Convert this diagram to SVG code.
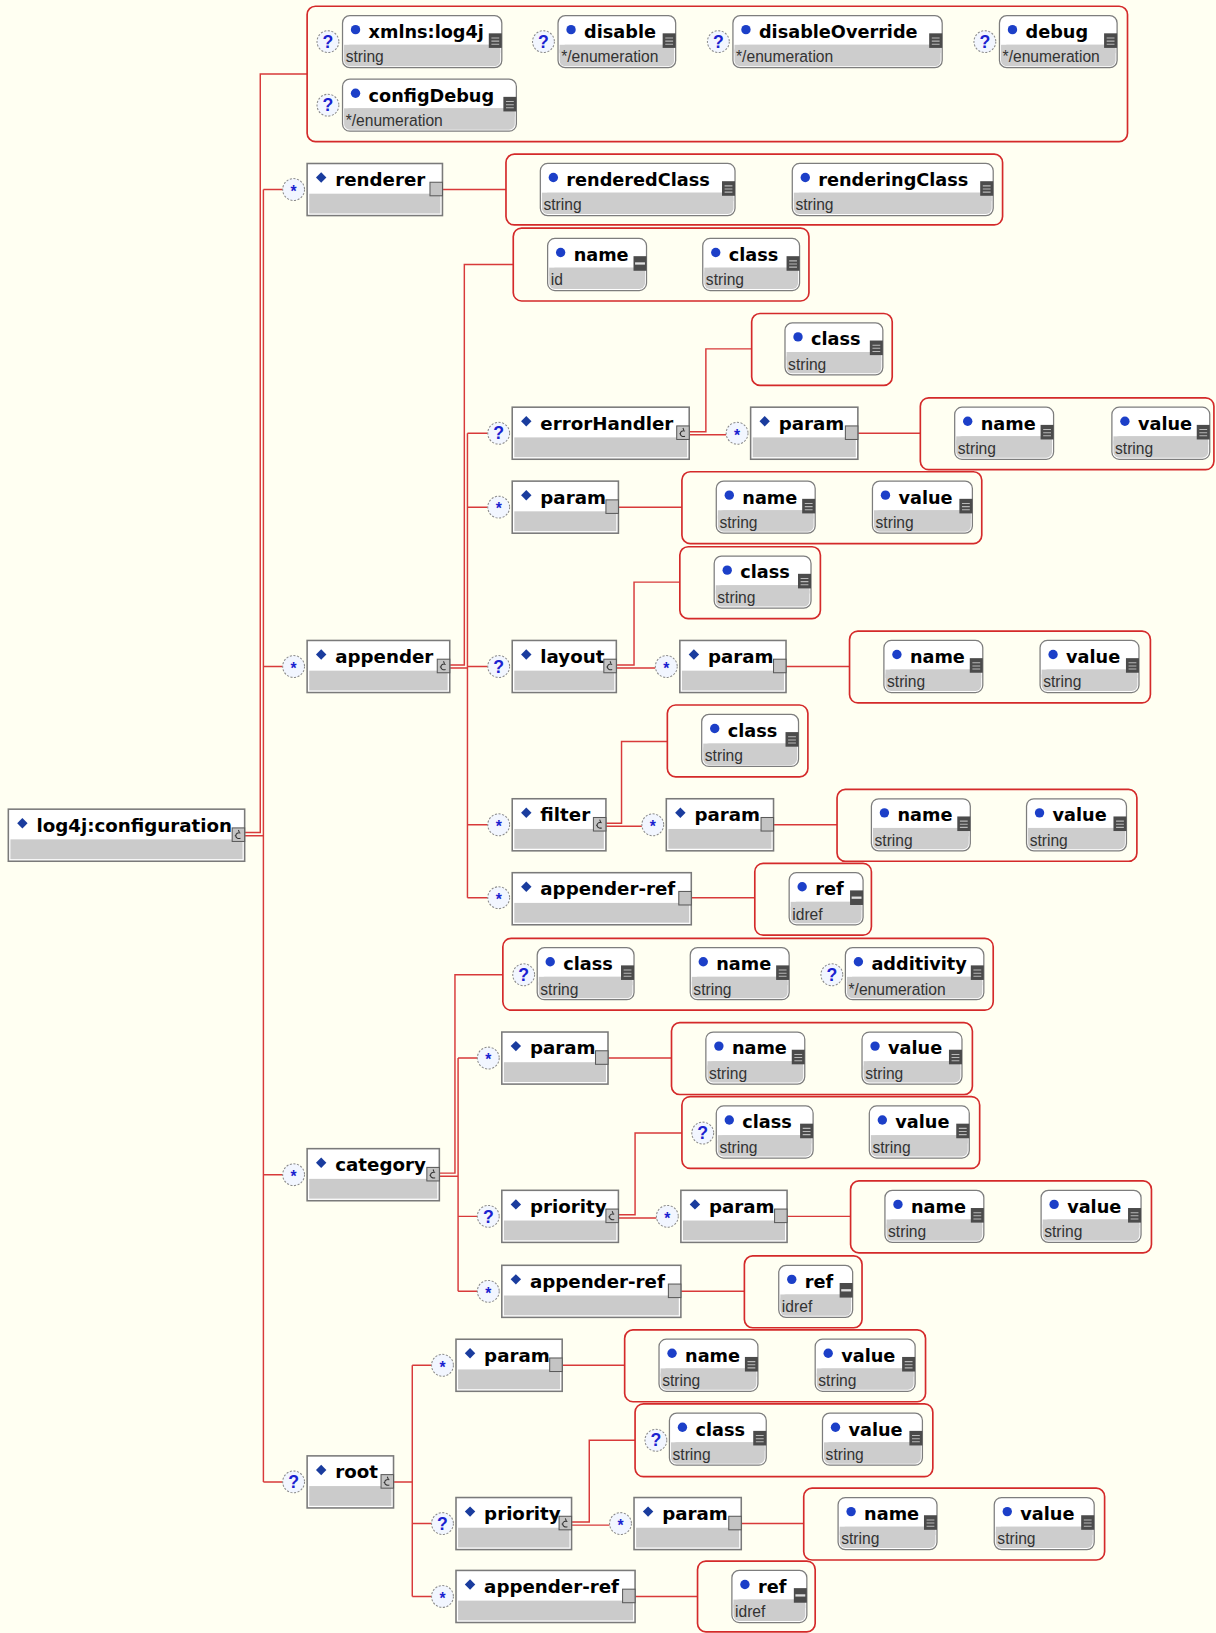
<svg xmlns="http://www.w3.org/2000/svg" xmlns:xlink="http://www.w3.org/1999/xlink" width="1216" height="1633" viewBox="0 0 1216 1633">
<style>
.ln{fill:none;stroke:#d83a3a;stroke-width:1.4}
.grp{fill:none;stroke:#d42a2a;stroke-width:1.6}
.eb{fill:#fff;stroke:#7a7a7a;stroke-width:1.5}
.eg{fill:#cbcbcb}
.ab{fill:#fff;stroke:#7d7d7d;stroke-width:1.2}
.ag{fill:#cdcdcd}
.dm{fill:#1a3c9e}
.dot{fill:#1c3fc8}
.en{font-family:"DejaVu Sans",Verdana,sans-serif;font-weight:bold;font-size:17.5px;fill:#000}
.an{font-family:"DejaVu Sans",Verdana,sans-serif;font-weight:bold;font-size:17px;fill:#000}
.ty{font-family:"Liberation Sans",Arial,sans-serif;font-size:15px;fill:#333}
.oc{fill:#f2f6ff;stroke:#8a8a8a;stroke-width:1;stroke-dasharray:2 1.5}
.q{font-family:"Liberation Sans",Arial,sans-serif;font-weight:bold;font-size:17px;fill:#1a22d0;text-anchor:middle}
.s{font-family:"Liberation Sans",Arial,sans-serif;font-weight:bold;font-size:15px;fill:#1a22d0;text-anchor:middle}
</style>
<defs>
<g id="str"><rect width="12.5" height="14" fill="#4b4b4b"/><path d="M2.5 4.5H10M2.5 7.5H10M2.5 10.5H10" stroke="#b8b8b8" stroke-width="1"/></g>
<g id="idi"><rect width="12.5" height="14" fill="#4b4b4b"/><path d="M1.5 7H11" stroke="#e0e0e0" stroke-width="2.2"/></g>
<g id="pln"><rect x="0.5" y="0.5" width="12" height="13" fill="#c4c4c4" stroke="#5a5a5a"/></g>
<g id="seq"><rect x="0.5" y="0.5" width="12" height="13" fill="#c4c4c4" stroke="#5a5a5a"/><path d="M8.5 5.5C6 4.5 4 6 4 8S6 11.2 8.5 10.5M6.5 2.5L7.5 5M3 8H4.5" fill="none" stroke="#333" stroke-width="1"/></g>
</defs>
<rect width="1216" height="1633" fill="#fffff2"/>
<g transform="scale(1.0411 1.0414)">
<g id="connectors">
<path class="ln" d="M235 799.5H250V71H295M235 802.5H253M253 182V1423M253 182H271.5M253 640H271.5M253 1128H271.5M253 1423H271.5"/>
<path class="ln" d="M425 182H486"/>
<path class="ln" d="M432 638.5H446V254H493M432 641.5H449M449 416V862M449 416H468.5M449 487H468.5M449 640H468.5M449 792H468.5M449 862H468.5"/>
<path class="ln" d="M662 414.5H678V335H722M662 417.5H697.5M824 416H884"/>
<path class="ln" d="M594 487H655"/>
<path class="ln" d="M592 638.5H609V559H653M592 641.5H629.5M755 640H816"/>
<path class="ln" d="M582 790.5H597V712H641M582 793.5H616.5M743 792H804"/>
<path class="ln" d="M664 862H725"/>
<path class="ln" d="M422 1126.5H437V936H483M422 1129.5H440M440 1016V1240M440 1016H458.5M440 1168H458.5M440 1240H458.5"/>
<path class="ln" d="M584 1016H645M594 1166.5H610V1088H655M594 1169.5H630.5M756 1168H817M654 1240H715"/>
<path class="ln" d="M378 1423H396M396 1311V1533M396 1311H414.5M396 1463H414.5M396 1533H414.5"/>
<path class="ln" d="M540 1311H600M549 1461.5H566V1383H610M549 1464.5H585.5M712 1463H772M610 1533H670"/>
</g>
<g id="attribute-groups">
<rect class="grp" x="295" y="6" width="788" height="130" rx="8"/>
<rect class="grp" x="486" y="148" width="477" height="68" rx="8"/>
<rect class="grp" x="493" y="219" width="284" height="70" rx="8"/>
<rect class="grp" x="722" y="301" width="135" height="69" rx="8"/>
<rect class="grp" x="884" y="382" width="282" height="69" rx="8"/>
<rect class="grp" x="655" y="453" width="288" height="69" rx="8"/>
<rect class="grp" x="653" y="525" width="135" height="69" rx="8"/>
<rect class="grp" x="816" y="606" width="289" height="69" rx="8"/>
<rect class="grp" x="641" y="677" width="135" height="69" rx="8"/>
<rect class="grp" x="804" y="758" width="288" height="69" rx="8"/>
<rect class="grp" x="725" y="829" width="112" height="69" rx="8"/>
<rect class="grp" x="483" y="901" width="471" height="69" rx="8"/>
<rect class="grp" x="645" y="982" width="289" height="69" rx="8"/>
<rect class="grp" x="655" y="1053" width="286" height="69" rx="8"/>
<rect class="grp" x="817" y="1134" width="289" height="69" rx="8"/>
<rect class="grp" x="715" y="1206" width="113" height="69" rx="8"/>
<rect class="grp" x="600" y="1277" width="289" height="69" rx="8"/>
<rect class="grp" x="610" y="1348" width="286" height="70" rx="8"/>
<rect class="grp" x="772" y="1429" width="289" height="69" rx="8"/>
<rect class="grp" x="670" y="1499" width="113" height="68" rx="8"/>
</g>

<!-- root element -->
<g id="n-configuration" transform="translate(8 777)">
<rect class="eb" width="227" height="50"/><rect class="eg" x="2" y="29" width="223" height="19"/>
<path class="dm" d="M13.5 8.5l5 5-5 5-5-5z"/><text class="en" x="27" y="21.5">log4j:configuration</text>
<use href="#seq" x="214.5" y="17.5"/>
</g>

<!-- top attributes -->
<g id="a-xmlns" transform="translate(329 15)">
<circle class="oc" cx="-14" cy="25" r="10.5"/><text class="q" x="-14" y="31">?</text>
<rect class="ab" width="153" height="50" rx="7"/><rect class="ag" x="1.5" y="28" width="150" height="20.5" rx="5.5"/><rect class="ag" x="1.5" y="28" width="150" height="8"/>
<circle class="dot" cx="12.5" cy="13.5" r="4.5"/><text class="an" x="25" y="21.5">xmlns:log4j</text><text class="ty" x="3" y="45">string</text>
<use href="#str" x="140.5" y="17"/>
</g>
<g id="a-disable" transform="translate(536 15)">
<circle class="oc" cx="-14" cy="25" r="10.5"/><text class="q" x="-14" y="31">?</text>
<rect class="ab" width="113" height="50" rx="7"/><rect class="ag" x="1.5" y="28" width="110" height="20.5" rx="5.5"/><rect class="ag" x="1.5" y="28" width="110" height="8"/>
<circle class="dot" cx="12.5" cy="13.5" r="4.5"/><text class="an" x="25" y="21.5">disable</text><text class="ty" x="3" y="45">*/enumeration</text>
<use href="#str" x="100.5" y="17"/>
</g>
<g id="a-disableOverride" transform="translate(704 15)">
<circle class="oc" cx="-14" cy="25" r="10.5"/><text class="q" x="-14" y="31">?</text>
<rect class="ab" width="201" height="50" rx="7"/><rect class="ag" x="1.5" y="28" width="198" height="20.5" rx="5.5"/><rect class="ag" x="1.5" y="28" width="198" height="8"/>
<circle class="dot" cx="12.5" cy="13.5" r="4.5"/><text class="an" x="25" y="21.5">disableOverride</text><text class="ty" x="3" y="45">*/enumeration</text>
<use href="#str" x="188.5" y="17"/>
</g>
<g id="a-debug" transform="translate(960 15)">
<circle class="oc" cx="-14" cy="25" r="10.5"/><text class="q" x="-14" y="31">?</text>
<rect class="ab" width="113" height="50" rx="7"/><rect class="ag" x="1.5" y="28" width="110" height="20.5" rx="5.5"/><rect class="ag" x="1.5" y="28" width="110" height="8"/>
<circle class="dot" cx="12.5" cy="13.5" r="4.5"/><text class="an" x="25" y="21.5">debug</text><text class="ty" x="3" y="45">*/enumeration</text>
<use href="#str" x="100.5" y="17"/>
</g>
<g id="a-configDebug" transform="translate(329 76)">
<circle class="oc" cx="-14" cy="25" r="10.5"/><text class="q" x="-14" y="31">?</text>
<rect class="ab" width="167" height="50" rx="7"/><rect class="ag" x="1.5" y="28" width="164" height="20.5" rx="5.5"/><rect class="ag" x="1.5" y="28" width="164" height="8"/>
<circle class="dot" cx="12.5" cy="13.5" r="4.5"/><text class="an" x="25" y="21.5">configDebug</text><text class="ty" x="3" y="45">*/enumeration</text>
<use href="#str" x="154.5" y="17"/>
</g>

<!-- renderer -->
<g id="n-renderer" transform="translate(295 157)">
<circle class="oc" cx="-13" cy="25" r="10.5"/><text class="s" x="-13" y="32">*</text>
<rect class="eb" width="130" height="50"/><rect class="eg" x="2" y="29" width="126" height="19"/>
<path class="dm" d="M13.5 8.5l5 5-5 5-5-5z"/><text class="en" x="27" y="21.5">renderer</text>
<use href="#pln" x="117.5" y="17.5"/>
</g>
<g id="a-renderedClass" transform="translate(519 157)">
<rect class="ab" width="187" height="50" rx="7"/><rect class="ag" x="1.5" y="28" width="184" height="20.5" rx="5.5"/><rect class="ag" x="1.5" y="28" width="184" height="8"/>
<circle class="dot" cx="12.5" cy="13.5" r="4.5"/><text class="an" x="25" y="21.5">renderedClass</text><text class="ty" x="3" y="45">string</text>
<use href="#str" x="174.5" y="17"/>
</g>
<g id="a-renderingClass" transform="translate(761 157)">
<rect class="ab" width="193" height="50" rx="7"/><rect class="ag" x="1.5" y="28" width="190" height="20.5" rx="5.5"/><rect class="ag" x="1.5" y="28" width="190" height="8"/>
<circle class="dot" cx="12.5" cy="13.5" r="4.5"/><text class="an" x="25" y="21.5">renderingClass</text><text class="ty" x="3" y="45">string</text>
<use href="#str" x="180.5" y="17"/>
</g>

<!-- appender -->
<g id="n-appender" transform="translate(295 615)">
<circle class="oc" cx="-13" cy="25" r="10.5"/><text class="s" x="-13" y="32">*</text>
<rect class="eb" width="137" height="50"/><rect class="eg" x="2" y="29" width="133" height="19"/>
<path class="dm" d="M13.5 8.5l5 5-5 5-5-5z"/><text class="en" x="27" y="21.5">appender</text>
<use href="#seq" x="124.5" y="17.5"/>
</g>
<g id="a-appender-name" transform="translate(526 229)">
<rect class="ab" width="95" height="50" rx="7"/><rect class="ag" x="1.5" y="28" width="92" height="20.5" rx="5.5"/><rect class="ag" x="1.5" y="28" width="92" height="8"/>
<circle class="dot" cx="12.5" cy="13.5" r="4.5"/><text class="an" x="25" y="21.5">name</text><text class="ty" x="3" y="45">id</text>
<use href="#idi" x="82.5" y="17"/>
</g>
<g id="a-appender-class" transform="translate(675 229)">
<rect class="ab" width="93" height="50" rx="7"/><rect class="ag" x="1.5" y="28" width="90" height="20.5" rx="5.5"/><rect class="ag" x="1.5" y="28" width="90" height="8"/>
<circle class="dot" cx="12.5" cy="13.5" r="4.5"/><text class="an" x="25" y="21.5">class</text><text class="ty" x="3" y="45">string</text>
<use href="#str" x="80.5" y="17"/>
</g>

<!-- errorHandler -->
<g id="n-errorHandler" transform="translate(492 391)">
<circle class="oc" cx="-13" cy="25" r="10.5"/><text class="q" x="-13" y="31">?</text>
<rect class="eb" width="170" height="50"/><rect class="eg" x="2" y="29" width="166" height="19"/>
<path class="dm" d="M13.5 8.5l5 5-5 5-5-5z"/><text class="en" x="27" y="21.5">errorHandler</text>
<use href="#seq" x="157.5" y="17.5"/>
</g>
<g id="a-errorHandler-class" transform="translate(754 310)">
<rect class="ab" width="94" height="50" rx="7"/><rect class="ag" x="1.5" y="28" width="91" height="20.5" rx="5.5"/><rect class="ag" x="1.5" y="28" width="91" height="8"/>
<circle class="dot" cx="12.5" cy="13.5" r="4.5"/><text class="an" x="25" y="21.5">class</text><text class="ty" x="3" y="45">string</text>
<use href="#str" x="81.5" y="17"/>
</g>
<g id="n-errorHandler-param" transform="translate(721 391)">
<circle class="oc" cx="-13" cy="25" r="10.5"/><text class="s" x="-13" y="32">*</text>
<rect class="eb" width="103" height="50"/><rect class="eg" x="2" y="29" width="99" height="19"/>
<path class="dm" d="M13.5 8.5l5 5-5 5-5-5z"/><text class="en" x="27" y="21.5">param</text>
<use href="#pln" x="90.5" y="17.5"/>
</g>
<g id="a-eh-param-name" transform="translate(917 391)">
<rect class="ab" width="95" height="50" rx="7"/><rect class="ag" x="1.5" y="28" width="92" height="20.5" rx="5.5"/><rect class="ag" x="1.5" y="28" width="92" height="8"/>
<circle class="dot" cx="12.5" cy="13.5" r="4.5"/><text class="an" x="25" y="21.5">name</text><text class="ty" x="3" y="45">string</text>
<use href="#str" x="82.5" y="17"/>
</g>
<g id="a-eh-param-value" transform="translate(1068 391)">
<rect class="ab" width="94" height="50" rx="7"/><rect class="ag" x="1.5" y="28" width="91" height="20.5" rx="5.5"/><rect class="ag" x="1.5" y="28" width="91" height="8"/>
<circle class="dot" cx="12.5" cy="13.5" r="4.5"/><text class="an" x="25" y="21.5">value</text><text class="ty" x="3" y="45">string</text>
<use href="#str" x="81.5" y="17"/>
</g>

<!-- appender param -->
<g id="n-appender-param" transform="translate(492 462)">
<circle class="oc" cx="-13" cy="25" r="10.5"/><text class="s" x="-13" y="32">*</text>
<rect class="eb" width="102" height="50"/><rect class="eg" x="2" y="29" width="98" height="19"/>
<path class="dm" d="M13.5 8.5l5 5-5 5-5-5z"/><text class="en" x="27" y="21.5">param</text>
<use href="#pln" x="89.5" y="17.5"/>
</g>
<g id="a-ap-param-name" transform="translate(688 462)">
<rect class="ab" width="95" height="50" rx="7"/><rect class="ag" x="1.5" y="28" width="92" height="20.5" rx="5.5"/><rect class="ag" x="1.5" y="28" width="92" height="8"/>
<circle class="dot" cx="12.5" cy="13.5" r="4.5"/><text class="an" x="25" y="21.5">name</text><text class="ty" x="3" y="45">string</text>
<use href="#str" x="82.5" y="17"/>
</g>
<g id="a-ap-param-value" transform="translate(838 462)">
<rect class="ab" width="96" height="50" rx="7"/><rect class="ag" x="1.5" y="28" width="93" height="20.5" rx="5.5"/><rect class="ag" x="1.5" y="28" width="93" height="8"/>
<circle class="dot" cx="12.5" cy="13.5" r="4.5"/><text class="an" x="25" y="21.5">value</text><text class="ty" x="3" y="45">string</text>
<use href="#str" x="83.5" y="17"/>
</g>

<!-- layout -->
<g id="n-layout" transform="translate(492 615)">
<circle class="oc" cx="-13" cy="25" r="10.5"/><text class="q" x="-13" y="31">?</text>
<rect class="eb" width="100" height="50"/><rect class="eg" x="2" y="29" width="96" height="19"/>
<path class="dm" d="M13.5 8.5l5 5-5 5-5-5z"/><text class="en" x="27" y="21.5">layout</text>
<use href="#seq" x="87.5" y="17.5"/>
</g>
<g id="a-layout-class" transform="translate(686 534)">
<rect class="ab" width="93" height="50" rx="7"/><rect class="ag" x="1.5" y="28" width="90" height="20.5" rx="5.5"/><rect class="ag" x="1.5" y="28" width="90" height="8"/>
<circle class="dot" cx="12.5" cy="13.5" r="4.5"/><text class="an" x="25" y="21.5">class</text><text class="ty" x="3" y="45">string</text>
<use href="#str" x="80.5" y="17"/>
</g>
<g id="n-layout-param" transform="translate(653 615)">
<circle class="oc" cx="-13" cy="25" r="10.5"/><text class="s" x="-13" y="32">*</text>
<rect class="eb" width="102" height="50"/><rect class="eg" x="2" y="29" width="98" height="19"/>
<path class="dm" d="M13.5 8.5l5 5-5 5-5-5z"/><text class="en" x="27" y="21.5">param</text>
<use href="#pln" x="89.5" y="17.5"/>
</g>
<g id="a-ly-param-name" transform="translate(849 615)">
<rect class="ab" width="95" height="50" rx="7"/><rect class="ag" x="1.5" y="28" width="92" height="20.5" rx="5.5"/><rect class="ag" x="1.5" y="28" width="92" height="8"/>
<circle class="dot" cx="12.5" cy="13.5" r="4.5"/><text class="an" x="25" y="21.5">name</text><text class="ty" x="3" y="45">string</text>
<use href="#str" x="82.5" y="17"/>
</g>
<g id="a-ly-param-value" transform="translate(999 615)">
<rect class="ab" width="95" height="50" rx="7"/><rect class="ag" x="1.5" y="28" width="92" height="20.5" rx="5.5"/><rect class="ag" x="1.5" y="28" width="92" height="8"/>
<circle class="dot" cx="12.5" cy="13.5" r="4.5"/><text class="an" x="25" y="21.5">value</text><text class="ty" x="3" y="45">string</text>
<use href="#str" x="82.5" y="17"/>
</g>

<!-- filter -->
<g id="n-filter" transform="translate(492 767)">
<circle class="oc" cx="-13" cy="25" r="10.5"/><text class="s" x="-13" y="32">*</text>
<rect class="eb" width="90" height="50"/><rect class="eg" x="2" y="29" width="86" height="19"/>
<path class="dm" d="M13.5 8.5l5 5-5 5-5-5z"/><text class="en" x="27" y="21.5">filter</text>
<use href="#seq" x="77.5" y="17.5"/>
</g>
<g id="a-filter-class" transform="translate(674 686)">
<rect class="ab" width="93" height="50" rx="7"/><rect class="ag" x="1.5" y="28" width="90" height="20.5" rx="5.5"/><rect class="ag" x="1.5" y="28" width="90" height="8"/>
<circle class="dot" cx="12.5" cy="13.5" r="4.5"/><text class="an" x="25" y="21.5">class</text><text class="ty" x="3" y="45">string</text>
<use href="#str" x="80.5" y="17"/>
</g>
<g id="n-filter-param" transform="translate(640 767)">
<circle class="oc" cx="-13" cy="25" r="10.5"/><text class="s" x="-13" y="32">*</text>
<rect class="eb" width="103" height="50"/><rect class="eg" x="2" y="29" width="99" height="19"/>
<path class="dm" d="M13.5 8.5l5 5-5 5-5-5z"/><text class="en" x="27" y="21.5">param</text>
<use href="#pln" x="90.5" y="17.5"/>
</g>
<g id="a-fl-param-name" transform="translate(837 767)">
<rect class="ab" width="95" height="50" rx="7"/><rect class="ag" x="1.5" y="28" width="92" height="20.5" rx="5.5"/><rect class="ag" x="1.5" y="28" width="92" height="8"/>
<circle class="dot" cx="12.5" cy="13.5" r="4.5"/><text class="an" x="25" y="21.5">name</text><text class="ty" x="3" y="45">string</text>
<use href="#str" x="82.5" y="17"/>
</g>
<g id="a-fl-param-value" transform="translate(986 767)">
<rect class="ab" width="96" height="50" rx="7"/><rect class="ag" x="1.5" y="28" width="93" height="20.5" rx="5.5"/><rect class="ag" x="1.5" y="28" width="93" height="8"/>
<circle class="dot" cx="12.5" cy="13.5" r="4.5"/><text class="an" x="25" y="21.5">value</text><text class="ty" x="3" y="45">string</text>
<use href="#str" x="83.5" y="17"/>
</g>

<!-- appender-ref (appender) -->
<g id="n-appender-appender-ref" transform="translate(492 838)">
<circle class="oc" cx="-13" cy="24" r="10.5"/><text class="s" x="-13" y="31">*</text>
<rect class="eb" width="172" height="50"/><rect class="eg" x="2" y="29" width="168" height="19"/>
<path class="dm" d="M13.5 8.5l5 5-5 5-5-5z"/><text class="en" x="27" y="21.5">appender-ref</text>
<use href="#pln" x="159.5" y="17.5"/>
</g>
<g id="a-ap-ref" transform="translate(758 838)">
<rect class="ab" width="71" height="50" rx="7"/><rect class="ag" x="1.5" y="28" width="68" height="20.5" rx="5.5"/><rect class="ag" x="1.5" y="28" width="68" height="8"/>
<circle class="dot" cx="12.5" cy="13.5" r="4.5"/><text class="an" x="25" y="21.5">ref</text><text class="ty" x="3" y="45">idref</text>
<use href="#idi" x="58.5" y="17"/>
</g>

<!-- category -->
<g id="n-category" transform="translate(295 1103)">
<circle class="oc" cx="-13" cy="25" r="10.5"/><text class="s" x="-13" y="32">*</text>
<rect class="eb" width="127" height="50"/><rect class="eg" x="2" y="29" width="123" height="19"/>
<path class="dm" d="M13.5 8.5l5 5-5 5-5-5z"/><text class="en" x="27" y="21.5">category</text>
<use href="#seq" x="114.5" y="17.5"/>
</g>
<g id="a-category-class" transform="translate(516 910)">
<circle class="oc" cx="-13" cy="26" r="10.5"/><text class="q" x="-13" y="32">?</text>
<rect class="ab" width="93" height="50" rx="7"/><rect class="ag" x="1.5" y="28" width="90" height="20.5" rx="5.5"/><rect class="ag" x="1.5" y="28" width="90" height="8"/>
<circle class="dot" cx="12.5" cy="13.5" r="4.5"/><text class="an" x="25" y="21.5">class</text><text class="ty" x="3" y="45">string</text>
<use href="#str" x="80.5" y="17"/>
</g>
<g id="a-category-name" transform="translate(663 910)">
<rect class="ab" width="95" height="50" rx="7"/><rect class="ag" x="1.5" y="28" width="92" height="20.5" rx="5.5"/><rect class="ag" x="1.5" y="28" width="92" height="8"/>
<circle class="dot" cx="12.5" cy="13.5" r="4.5"/><text class="an" x="25" y="21.5">name</text><text class="ty" x="3" y="45">string</text>
<use href="#str" x="82.5" y="17"/>
</g>
<g id="a-category-additivity" transform="translate(812 910)">
<circle class="oc" cx="-13" cy="26" r="10.5"/><text class="q" x="-13" y="32">?</text>
<rect class="ab" width="133" height="50" rx="7"/><rect class="ag" x="1.5" y="28" width="130" height="20.5" rx="5.5"/><rect class="ag" x="1.5" y="28" width="130" height="8"/>
<circle class="dot" cx="12.5" cy="13.5" r="4.5"/><text class="an" x="25" y="21.5">additivity</text><text class="ty" x="3" y="45">*/enumeration</text>
<use href="#str" x="120.5" y="17"/>
</g>
<g id="n-category-param" transform="translate(482 991)">
<circle class="oc" cx="-13" cy="25" r="10.5"/><text class="s" x="-13" y="32">*</text>
<rect class="eb" width="102" height="50"/><rect class="eg" x="2" y="29" width="98" height="19"/>
<path class="dm" d="M13.5 8.5l5 5-5 5-5-5z"/><text class="en" x="27" y="21.5">param</text>
<use href="#pln" x="89.5" y="17.5"/>
</g>
<g id="a-cat-param-name" transform="translate(678 991)">
<rect class="ab" width="95" height="50" rx="7"/><rect class="ag" x="1.5" y="28" width="92" height="20.5" rx="5.5"/><rect class="ag" x="1.5" y="28" width="92" height="8"/>
<circle class="dot" cx="12.5" cy="13.5" r="4.5"/><text class="an" x="25" y="21.5">name</text><text class="ty" x="3" y="45">string</text>
<use href="#str" x="82.5" y="17"/>
</g>
<g id="a-cat-param-value" transform="translate(828 991)">
<rect class="ab" width="96" height="50" rx="7"/><rect class="ag" x="1.5" y="28" width="93" height="20.5" rx="5.5"/><rect class="ag" x="1.5" y="28" width="93" height="8"/>
<circle class="dot" cx="12.5" cy="13.5" r="4.5"/><text class="an" x="25" y="21.5">value</text><text class="ty" x="3" y="45">string</text>
<use href="#str" x="83.5" y="17"/>
</g>
<g id="n-category-priority" transform="translate(482 1143)">
<circle class="oc" cx="-13" cy="25" r="10.5"/><text class="q" x="-13" y="31">?</text>
<rect class="eb" width="112" height="50"/><rect class="eg" x="2" y="29" width="108" height="19"/>
<path class="dm" d="M13.5 8.5l5 5-5 5-5-5z"/><text class="en" x="27" y="21.5">priority</text>
<use href="#seq" x="99.5" y="17.5"/>
</g>
<g id="a-cat-prio-class" transform="translate(688 1062)">
<circle class="oc" cx="-13" cy="26" r="10.5"/><text class="q" x="-13" y="32">?</text>
<rect class="ab" width="93" height="50" rx="7"/><rect class="ag" x="1.5" y="28" width="90" height="20.5" rx="5.5"/><rect class="ag" x="1.5" y="28" width="90" height="8"/>
<circle class="dot" cx="12.5" cy="13.5" r="4.5"/><text class="an" x="25" y="21.5">class</text><text class="ty" x="3" y="45">string</text>
<use href="#str" x="80.5" y="17"/>
</g>
<g id="a-cat-prio-value" transform="translate(835 1062)">
<rect class="ab" width="96" height="50" rx="7"/><rect class="ag" x="1.5" y="28" width="93" height="20.5" rx="5.5"/><rect class="ag" x="1.5" y="28" width="93" height="8"/>
<circle class="dot" cx="12.5" cy="13.5" r="4.5"/><text class="an" x="25" y="21.5">value</text><text class="ty" x="3" y="45">string</text>
<use href="#str" x="83.5" y="17"/>
</g>
<g id="n-cat-prio-param" transform="translate(654 1143)">
<circle class="oc" cx="-13" cy="25" r="10.5"/><text class="s" x="-13" y="32">*</text>
<rect class="eb" width="102" height="50"/><rect class="eg" x="2" y="29" width="98" height="19"/>
<path class="dm" d="M13.5 8.5l5 5-5 5-5-5z"/><text class="en" x="27" y="21.5">param</text>
<use href="#pln" x="89.5" y="17.5"/>
</g>
<g id="a-cp-param-name" transform="translate(850 1143)">
<rect class="ab" width="95" height="50" rx="7"/><rect class="ag" x="1.5" y="28" width="92" height="20.5" rx="5.5"/><rect class="ag" x="1.5" y="28" width="92" height="8"/>
<circle class="dot" cx="12.5" cy="13.5" r="4.5"/><text class="an" x="25" y="21.5">name</text><text class="ty" x="3" y="45">string</text>
<use href="#str" x="82.5" y="17"/>
</g>
<g id="a-cp-param-value" transform="translate(1000 1143)">
<rect class="ab" width="96" height="50" rx="7"/><rect class="ag" x="1.5" y="28" width="93" height="20.5" rx="5.5"/><rect class="ag" x="1.5" y="28" width="93" height="8"/>
<circle class="dot" cx="12.5" cy="13.5" r="4.5"/><text class="an" x="25" y="21.5">value</text><text class="ty" x="3" y="45">string</text>
<use href="#str" x="83.5" y="17"/>
</g>
<g id="n-category-appender-ref" transform="translate(482 1215)">
<circle class="oc" cx="-13" cy="25" r="10.5"/><text class="s" x="-13" y="32">*</text>
<rect class="eb" width="172" height="50"/><rect class="eg" x="2" y="29" width="168" height="19"/>
<path class="dm" d="M13.5 8.5l5 5-5 5-5-5z"/><text class="en" x="27" y="21.5">appender-ref</text>
<use href="#pln" x="159.5" y="17.5"/>
</g>
<g id="a-cat-ref" transform="translate(748 1215)">
<rect class="ab" width="71" height="50" rx="7"/><rect class="ag" x="1.5" y="28" width="68" height="20.5" rx="5.5"/><rect class="ag" x="1.5" y="28" width="68" height="8"/>
<circle class="dot" cx="12.5" cy="13.5" r="4.5"/><text class="an" x="25" y="21.5">ref</text><text class="ty" x="3" y="45">idref</text>
<use href="#idi" x="58.5" y="17"/>
</g>

<!-- root -->
<g id="n-root" transform="translate(295 1398)">
<circle class="oc" cx="-13" cy="25" r="10.5"/><text class="q" x="-13" y="31">?</text>
<rect class="eb" width="83" height="50"/><rect class="eg" x="2" y="29" width="79" height="19"/>
<path class="dm" d="M13.5 8.5l5 5-5 5-5-5z"/><text class="en" x="27" y="21.5">root</text>
<use href="#seq" x="70.5" y="17.5"/>
</g>
<g id="n-root-param" transform="translate(438 1286)">
<circle class="oc" cx="-13" cy="25" r="10.5"/><text class="s" x="-13" y="32">*</text>
<rect class="eb" width="102" height="50"/><rect class="eg" x="2" y="29" width="98" height="19"/>
<path class="dm" d="M13.5 8.5l5 5-5 5-5-5z"/><text class="en" x="27" y="21.5">param</text>
<use href="#pln" x="89.5" y="17.5"/>
</g>
<g id="a-rt-param-name" transform="translate(633 1286)">
<rect class="ab" width="95" height="50" rx="7"/><rect class="ag" x="1.5" y="28" width="92" height="20.5" rx="5.5"/><rect class="ag" x="1.5" y="28" width="92" height="8"/>
<circle class="dot" cx="12.5" cy="13.5" r="4.5"/><text class="an" x="25" y="21.5">name</text><text class="ty" x="3" y="45">string</text>
<use href="#str" x="82.5" y="17"/>
</g>
<g id="a-rt-param-value" transform="translate(783 1286)">
<rect class="ab" width="96" height="50" rx="7"/><rect class="ag" x="1.5" y="28" width="93" height="20.5" rx="5.5"/><rect class="ag" x="1.5" y="28" width="93" height="8"/>
<circle class="dot" cx="12.5" cy="13.5" r="4.5"/><text class="an" x="25" y="21.5">value</text><text class="ty" x="3" y="45">string</text>
<use href="#str" x="83.5" y="17"/>
</g>
<g id="n-root-priority" transform="translate(438 1438)">
<circle class="oc" cx="-13" cy="25" r="10.5"/><text class="q" x="-13" y="31">?</text>
<rect class="eb" width="111" height="50"/><rect class="eg" x="2" y="29" width="107" height="19"/>
<path class="dm" d="M13.5 8.5l5 5-5 5-5-5z"/><text class="en" x="27" y="21.5">priority</text>
<use href="#seq" x="98.5" y="17.5"/>
</g>
<g id="a-rt-prio-class" transform="translate(643 1357)">
<circle class="oc" cx="-13" cy="26" r="10.5"/><text class="q" x="-13" y="32">?</text>
<rect class="ab" width="93" height="50" rx="7"/><rect class="ag" x="1.5" y="28" width="90" height="20.5" rx="5.5"/><rect class="ag" x="1.5" y="28" width="90" height="8"/>
<circle class="dot" cx="12.5" cy="13.5" r="4.5"/><text class="an" x="25" y="21.5">class</text><text class="ty" x="3" y="45">string</text>
<use href="#str" x="80.5" y="17"/>
</g>
<g id="a-rt-prio-value" transform="translate(790 1357)">
<rect class="ab" width="96" height="50" rx="7"/><rect class="ag" x="1.5" y="28" width="93" height="20.5" rx="5.5"/><rect class="ag" x="1.5" y="28" width="93" height="8"/>
<circle class="dot" cx="12.5" cy="13.5" r="4.5"/><text class="an" x="25" y="21.5">value</text><text class="ty" x="3" y="45">string</text>
<use href="#str" x="83.5" y="17"/>
</g>
<g id="n-rt-prio-param" transform="translate(609 1438)">
<circle class="oc" cx="-13" cy="25" r="10.5"/><text class="s" x="-13" y="32">*</text>
<rect class="eb" width="103" height="50"/><rect class="eg" x="2" y="29" width="99" height="19"/>
<path class="dm" d="M13.5 8.5l5 5-5 5-5-5z"/><text class="en" x="27" y="21.5">param</text>
<use href="#pln" x="90.5" y="17.5"/>
</g>
<g id="a-rp-param-name" transform="translate(805 1438)">
<rect class="ab" width="95" height="50" rx="7"/><rect class="ag" x="1.5" y="28" width="92" height="20.5" rx="5.5"/><rect class="ag" x="1.5" y="28" width="92" height="8"/>
<circle class="dot" cx="12.5" cy="13.5" r="4.5"/><text class="an" x="25" y="21.5">name</text><text class="ty" x="3" y="45">string</text>
<use href="#str" x="82.5" y="17"/>
</g>
<g id="a-rp-param-value" transform="translate(955 1438)">
<rect class="ab" width="96" height="50" rx="7"/><rect class="ag" x="1.5" y="28" width="93" height="20.5" rx="5.5"/><rect class="ag" x="1.5" y="28" width="93" height="8"/>
<circle class="dot" cx="12.5" cy="13.5" r="4.5"/><text class="an" x="25" y="21.5">value</text><text class="ty" x="3" y="45">string</text>
<use href="#str" x="83.5" y="17"/>
</g>
<g id="n-root-appender-ref" transform="translate(438 1508)">
<circle class="oc" cx="-13" cy="25" r="10.5"/><text class="s" x="-13" y="32">*</text>
<rect class="eb" width="172" height="50"/><rect class="eg" x="2" y="29" width="168" height="19"/>
<path class="dm" d="M13.5 8.5l5 5-5 5-5-5z"/><text class="en" x="27" y="21.5">appender-ref</text>
<use href="#pln" x="159.5" y="17.5"/>
</g>
<g id="a-rt-ref" transform="translate(703 1508)">
<rect class="ab" width="72" height="50" rx="7"/><rect class="ag" x="1.5" y="28" width="69" height="20.5" rx="5.5"/><rect class="ag" x="1.5" y="28" width="69" height="8"/>
<circle class="dot" cx="12.5" cy="13.5" r="4.5"/><text class="an" x="25" y="21.5">ref</text><text class="ty" x="3" y="45">idref</text>
<use href="#idi" x="59.5" y="17"/>
</g>
</g>
</svg>
